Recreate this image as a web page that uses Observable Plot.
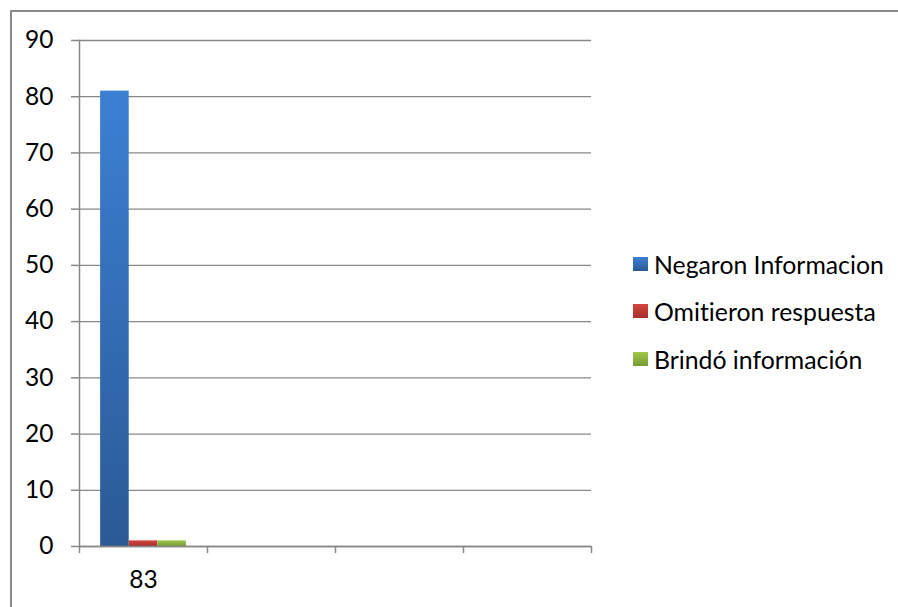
<!DOCTYPE html>
<html>
<head>
<meta charset="utf-8">
<script src="https://cdn.jsdelivr.net/npm/d3@7"></script>
<script src="https://cdn.jsdelivr.net/npm/@observablehq/plot@0.6"></script>
<style>
  html, body { margin: 0; padding: 0; background: #fff; overflow: hidden; }
  #wrap { position: relative; width: 898px; height: 607px; overflow: hidden; font-family: Lato, "Open Sans", sans-serif; font-variant-ligatures: none; }
  #bTop { position: absolute; left: 10px; top: 10px; width: 888px; height: 2px; background: #8a8a8a; }
  #bLeft { position: absolute; left: 10px; top: 10px; width: 2px; height: 597px; background: #8a8a8a; }
  #legend { position: absolute; left: 633px; top: 0; font-size: 24.8px; color: #000; }
  .item { position: absolute; left: 0; white-space: nowrap; display: flex; align-items: center; height: 30px; }
  .sw { width: 15px; height: 14px; margin-right: 6px; }
  svg text { font-variant-ligatures: none; }
</style>
</head>
<body>
<div id="wrap">
  <div id="bTop"></div>
  <div id="bLeft"></div>
  <div id="chart"></div>
  <div id="legend"></div>
</div>
<script>
const categories = ["83", "", "", ""];
const seriesNames = ["Negaron Informacion", "Omitieron respuesta", "Brindó información"];
const negaron = [81, null, null, null];
const omitieron = [1, null, null, null];
const brindo = [1, null, null, null];
const yTicks = [0, 10, 20, 30, 40, 50, 60, 70, 80, 90];

const seriesValues = [negaron, omitieron, brindo];
const gradients = [
  ["#3c80d3", "#2b5a95"],
  ["#d44440", "#a52f2b"],
  ["#a0c94c", "#779a34"]
];

const W = 898, H = 607, mL = 79, mR = 307, mT = 40, mB = 61;
const bw = (W - mL - mR) / categories.length;
const groupPad = 0.165;
const barFrac = (1 - 2 * groupPad) / 3;
const grey = "#888888";
const catIdx = categories.map((_, i) => i);

const barMarks = seriesValues.map((vals, s) => {
  const rows = vals.map((v, i) => ({cat: i, value: v})).filter(d => d.value != null);
  return Plot.barY(rows, {
    x: "cat", y: "value",
    fill: `url(#grad${s})`,
    insetLeft: bw * (groupPad + s * barFrac),
    insetRight: bw * (1 - groupPad - (s + 1) * barFrac)
  });
});

const plot = Plot.plot({
  width: W, height: H,
  marginLeft: mL, marginRight: mR, marginTop: mT, marginBottom: mB,
  style: {fontFamily: "Lato, 'Open Sans', sans-serif", fontSize: "24px", color: "#000", background: "transparent"},
  x: {type: "band", domain: catIdx, padding: 0, axis: null, label: null},
  y: {domain: [0, 90], axis: null, label: null},
  marks: [
    Plot.gridY(yTicks, {stroke: grey, strokeOpacity: 1, strokeWidth: 1.3}),
    Plot.frame({anchor: "left", stroke: grey, strokeWidth: 1.5}),
    ...barMarks,
    Plot.ruleY([0], {stroke: grey, strokeWidth: 1.5}),
    Plot.axisY(yTicks, {tickSize: 8, tickPadding: 18, stroke: grey, strokeWidth: 1.5, fontSize: 24.5, fill: "#000", label: null}),
    Plot.axisX(catIdx, {tickSize: 7, dx: -bw / 2, tickFormat: () => "", stroke: grey, strokeWidth: 1.5, label: null}),
    Plot.axisX([catIdx[catIdx.length - 1]], {tickSize: 7, dx: bw / 2, tickFormat: () => "", stroke: grey, strokeWidth: 1.5, label: null}),
    Plot.axisX(catIdx, {tickSize: 0, tickPadding: 24, tickFormat: i => categories[i], fontSize: 24.5, fill: "#000", label: null})
  ]
});

const svg = d3.select(plot);
const defs = svg.insert("defs", ":first-child");
gradients.forEach((g, s) => {
  const lg = defs.append("linearGradient").attr("id", `grad${s}`).attr("x1", 0).attr("y1", 0).attr("x2", 0).attr("y2", 1);
  lg.append("stop").attr("offset", "0%").attr("stop-color", g[0]);
  lg.append("stop").attr("offset", "100%").attr("stop-color", g[1]);
});
plot.style.position = "absolute";
plot.style.left = "0px";
plot.style.top = "0px";
document.getElementById("chart").appendChild(plot);

const legend = d3.select("#legend");
const rowTops = [249, 296, 344];
seriesNames.forEach((name, s) => {
  const item = legend.append("div").attr("class", "item").style("top", rowTops[s] + "px");
  item.append("div").attr("class", "sw").style("background", `linear-gradient(${gradients[s][0]}, ${gradients[s][1]})`);
  item.append("span").text(name);
});
</script>
</body>
</html>
